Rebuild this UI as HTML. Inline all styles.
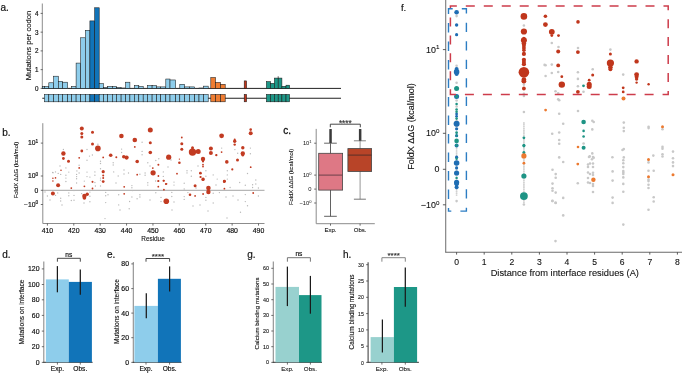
<!DOCTYPE html>
<html><head><meta charset="utf-8"><style>
html,body{margin:0;padding:0;background:#fff;overflow:hidden;}
svg{display:block;font-family:"Liberation Sans", sans-serif;will-change:transform;}
</style></head><body>
<svg width="685" height="373" viewBox="0 0 685 373">
<rect width="685" height="373" fill="#fff"/>
<text x="0.50" y="11.20" font-size="10" text-anchor="start" fill="#111" stroke="#111" stroke-width="0.18">a.</text>
<line x1="42.30" y1="3.50" x2="42.30" y2="88.70" stroke="#8c8c8c" stroke-width="1.0"/>
<line x1="40.60" y1="88.40" x2="42.60" y2="88.40" stroke="#333" stroke-width="0.7"/>
<text x="38.40" y="90.80" font-size="6.3" text-anchor="end" fill="#111" stroke="#111" stroke-width="0.18">0</text>
<line x1="40.60" y1="69.65" x2="42.60" y2="69.65" stroke="#333" stroke-width="0.7"/>
<text x="38.40" y="72.05" font-size="6.3" text-anchor="end" fill="#111" stroke="#111" stroke-width="0.18">1</text>
<line x1="40.60" y1="50.90" x2="42.60" y2="50.90" stroke="#333" stroke-width="0.7"/>
<text x="38.40" y="53.30" font-size="6.3" text-anchor="end" fill="#111" stroke="#111" stroke-width="0.18">2</text>
<line x1="40.60" y1="32.15" x2="42.60" y2="32.15" stroke="#333" stroke-width="0.7"/>
<text x="38.40" y="34.55" font-size="6.3" text-anchor="end" fill="#111" stroke="#111" stroke-width="0.18">3</text>
<line x1="40.60" y1="13.40" x2="42.60" y2="13.40" stroke="#333" stroke-width="0.7"/>
<text x="38.40" y="15.80" font-size="6.3" text-anchor="end" fill="#111" stroke="#111" stroke-width="0.18">4</text>
<text x="31.40" y="45.50" font-size="7.7" text-anchor="middle" fill="#111" stroke="#111" stroke-width="0.12" transform="rotate(-90 31.40 45.50)">Mutations per codon</text>
<line x1="42.30" y1="88.40" x2="341.00" y2="88.40" stroke="#222" stroke-width="1.0"/>
<rect x="42.60" y="86.50" width="1.80" height="1.90" fill="#8ecdeb" stroke="#1a1a1a" stroke-width="0.55"/>
<rect x="44.40" y="86.53" width="4.40" height="1.88" fill="#8ecdeb" stroke="#1a1a1a" stroke-width="0.55"/>
<rect x="48.80" y="82.78" width="4.80" height="5.62" fill="#8ecdeb" stroke="#1a1a1a" stroke-width="0.55"/>
<rect x="53.60" y="76.21" width="4.80" height="12.19" fill="#8ecdeb" stroke="#1a1a1a" stroke-width="0.55"/>
<rect x="58.40" y="81.28" width="4.20" height="7.12" fill="#8ecdeb" stroke="#1a1a1a" stroke-width="0.55"/>
<rect x="62.60" y="82.21" width="5.00" height="6.19" fill="#8ecdeb" stroke="#1a1a1a" stroke-width="0.55"/>
<rect x="71.70" y="86.53" width="4.40" height="1.88" fill="#8ecdeb" stroke="#1a1a1a" stroke-width="0.55"/>
<rect x="76.10" y="63.09" width="4.60" height="25.31" fill="#8ecdeb" stroke="#1a1a1a" stroke-width="0.55"/>
<rect x="80.70" y="37.78" width="4.70" height="50.62" fill="#8ecdeb" stroke="#1a1a1a" stroke-width="0.55"/>
<rect x="85.40" y="30.28" width="4.50" height="58.12" fill="#8ecdeb" stroke="#1a1a1a" stroke-width="0.55"/>
<rect x="89.90" y="20.90" width="4.80" height="67.50" fill="#1174b9" stroke="#1a1a1a" stroke-width="0.55"/>
<rect x="94.70" y="7.78" width="4.50" height="80.62" fill="#1174b9" stroke="#1a1a1a" stroke-width="0.55"/>
<rect x="99.20" y="83.71" width="4.30" height="4.69" fill="#8ecdeb" stroke="#1a1a1a" stroke-width="0.55"/>
<rect x="103.50" y="87.46" width="4.20" height="0.94" fill="#8ecdeb" stroke="#1a1a1a" stroke-width="0.55"/>
<rect x="107.70" y="86.53" width="4.60" height="1.88" fill="#8ecdeb" stroke="#1a1a1a" stroke-width="0.55"/>
<rect x="112.30" y="86.53" width="4.20" height="1.88" fill="#8ecdeb" stroke="#1a1a1a" stroke-width="0.55"/>
<rect x="116.50" y="87.46" width="4.60" height="0.94" fill="#8ecdeb" stroke="#1a1a1a" stroke-width="0.55"/>
<rect x="121.10" y="88.03" width="4.50" height="0.38" fill="#8ecdeb" stroke="#1a1a1a" stroke-width="0.55"/>
<rect x="125.60" y="82.21" width="4.30" height="6.19" fill="#8ecdeb" stroke="#1a1a1a" stroke-width="0.55"/>
<rect x="134.40" y="85.59" width="4.40" height="2.81" fill="#8ecdeb" stroke="#1a1a1a" stroke-width="0.55"/>
<rect x="138.80" y="86.53" width="4.40" height="1.88" fill="#8ecdeb" stroke="#1a1a1a" stroke-width="0.55"/>
<rect x="147.50" y="85.59" width="4.60" height="2.81" fill="#8ecdeb" stroke="#1a1a1a" stroke-width="0.55"/>
<rect x="152.10" y="85.59" width="4.50" height="2.81" fill="#8ecdeb" stroke="#1a1a1a" stroke-width="0.55"/>
<rect x="156.60" y="86.90" width="4.10" height="1.50" fill="#8ecdeb" stroke="#1a1a1a" stroke-width="0.55"/>
<rect x="160.70" y="86.90" width="5.10" height="1.50" fill="#8ecdeb" stroke="#1a1a1a" stroke-width="0.55"/>
<rect x="165.80" y="79.03" width="4.20" height="9.38" fill="#8ecdeb" stroke="#1a1a1a" stroke-width="0.55"/>
<rect x="170.00" y="79.96" width="5.60" height="8.44" fill="#8ecdeb" stroke="#1a1a1a" stroke-width="0.55"/>
<rect x="179.80" y="84.28" width="4.80" height="4.12" fill="#8ecdeb" stroke="#1a1a1a" stroke-width="0.55"/>
<rect x="184.60" y="86.90" width="4.80" height="1.50" fill="#8ecdeb" stroke="#1a1a1a" stroke-width="0.55"/>
<rect x="189.40" y="86.90" width="5.30" height="1.50" fill="#8ecdeb" stroke="#1a1a1a" stroke-width="0.55"/>
<rect x="199.00" y="88.03" width="4.60" height="0.38" fill="#8ecdeb" stroke="#1a1a1a" stroke-width="0.55"/>
<rect x="203.60" y="86.15" width="4.60" height="2.25" fill="#8ecdeb" stroke="#1a1a1a" stroke-width="0.55"/>
<rect x="210.80" y="77.53" width="4.70" height="10.88" fill="#ef7d32" stroke="#1a1a1a" stroke-width="0.55"/>
<rect x="215.50" y="82.40" width="5.00" height="6.00" fill="#ef7d32" stroke="#1a1a1a" stroke-width="0.55"/>
<rect x="220.50" y="84.28" width="4.70" height="4.12" fill="#ef7d32" stroke="#1a1a1a" stroke-width="0.55"/>
<rect x="244.20" y="80.90" width="2.40" height="7.50" fill="#c0361c" stroke="#1a1a1a" stroke-width="0.55"/>
<rect x="266.40" y="81.65" width="4.10" height="6.75" fill="#1d9787" stroke="#1a1a1a" stroke-width="0.55"/>
<rect x="270.50" y="83.34" width="3.90" height="5.06" fill="#1d9787" stroke="#1a1a1a" stroke-width="0.55"/>
<rect x="274.40" y="78.09" width="3.80" height="10.31" fill="#1d9787" stroke="#1a1a1a" stroke-width="0.55"/>
<rect x="278.20" y="78.09" width="3.70" height="10.31" fill="#1d9787" stroke="#1a1a1a" stroke-width="0.55"/>
<rect x="281.90" y="86.34" width="4.10" height="2.06" fill="#1d9787" stroke="#1a1a1a" stroke-width="0.55"/>
<rect x="286.00" y="85.21" width="3.60" height="3.19" fill="#1d9787" stroke="#1a1a1a" stroke-width="0.55"/>
<line x1="278.20" y1="76.20" x2="278.20" y2="78.60" stroke="#333" stroke-width="0.7"/>
<line x1="42.30" y1="98.20" x2="341.00" y2="98.20" stroke="#222" stroke-width="1.1"/>
<rect x="44.40" y="94.40" width="4.40" height="7.40" fill="#8ecdeb" stroke="#1a1a1a" stroke-width="0.55"/>
<rect x="48.80" y="94.40" width="4.80" height="7.40" fill="#8ecdeb" stroke="#1a1a1a" stroke-width="0.55"/>
<rect x="53.60" y="94.40" width="4.80" height="7.40" fill="#8ecdeb" stroke="#1a1a1a" stroke-width="0.55"/>
<rect x="58.40" y="94.40" width="4.20" height="7.40" fill="#8ecdeb" stroke="#1a1a1a" stroke-width="0.55"/>
<rect x="62.60" y="94.40" width="5.00" height="7.40" fill="#8ecdeb" stroke="#1a1a1a" stroke-width="0.55"/>
<rect x="67.60" y="94.40" width="4.10" height="7.40" fill="#8ecdeb" stroke="#1a1a1a" stroke-width="0.55"/>
<rect x="71.70" y="94.40" width="4.40" height="7.40" fill="#8ecdeb" stroke="#1a1a1a" stroke-width="0.55"/>
<rect x="76.10" y="94.40" width="4.60" height="7.40" fill="#8ecdeb" stroke="#1a1a1a" stroke-width="0.55"/>
<rect x="80.70" y="94.40" width="4.70" height="7.40" fill="#8ecdeb" stroke="#1a1a1a" stroke-width="0.55"/>
<rect x="85.40" y="94.40" width="4.50" height="7.40" fill="#8ecdeb" stroke="#1a1a1a" stroke-width="0.55"/>
<rect x="89.90" y="94.40" width="4.80" height="7.40" fill="#1174b9" stroke="#1a1a1a" stroke-width="0.55"/>
<rect x="94.70" y="94.40" width="4.50" height="7.40" fill="#1174b9" stroke="#1a1a1a" stroke-width="0.55"/>
<rect x="99.20" y="94.40" width="4.30" height="7.40" fill="#8ecdeb" stroke="#1a1a1a" stroke-width="0.55"/>
<rect x="103.50" y="94.40" width="4.20" height="7.40" fill="#8ecdeb" stroke="#1a1a1a" stroke-width="0.55"/>
<rect x="107.70" y="94.40" width="4.60" height="7.40" fill="#8ecdeb" stroke="#1a1a1a" stroke-width="0.55"/>
<rect x="112.30" y="94.40" width="4.20" height="7.40" fill="#8ecdeb" stroke="#1a1a1a" stroke-width="0.55"/>
<rect x="116.50" y="94.40" width="4.60" height="7.40" fill="#8ecdeb" stroke="#1a1a1a" stroke-width="0.55"/>
<rect x="121.10" y="94.40" width="4.50" height="7.40" fill="#8ecdeb" stroke="#1a1a1a" stroke-width="0.55"/>
<rect x="125.60" y="94.40" width="4.30" height="7.40" fill="#8ecdeb" stroke="#1a1a1a" stroke-width="0.55"/>
<rect x="129.90" y="94.40" width="4.50" height="7.40" fill="#8ecdeb" stroke="#1a1a1a" stroke-width="0.55"/>
<rect x="134.40" y="94.40" width="4.40" height="7.40" fill="#8ecdeb" stroke="#1a1a1a" stroke-width="0.55"/>
<rect x="138.80" y="94.40" width="4.40" height="7.40" fill="#8ecdeb" stroke="#1a1a1a" stroke-width="0.55"/>
<rect x="143.20" y="94.40" width="4.30" height="7.40" fill="#8ecdeb" stroke="#1a1a1a" stroke-width="0.55"/>
<rect x="147.50" y="94.40" width="4.60" height="7.40" fill="#8ecdeb" stroke="#1a1a1a" stroke-width="0.55"/>
<rect x="152.10" y="94.40" width="4.50" height="7.40" fill="#8ecdeb" stroke="#1a1a1a" stroke-width="0.55"/>
<rect x="156.60" y="94.40" width="4.10" height="7.40" fill="#8ecdeb" stroke="#1a1a1a" stroke-width="0.55"/>
<rect x="160.70" y="94.40" width="5.10" height="7.40" fill="#8ecdeb" stroke="#1a1a1a" stroke-width="0.55"/>
<rect x="165.80" y="94.40" width="4.20" height="7.40" fill="#8ecdeb" stroke="#1a1a1a" stroke-width="0.55"/>
<rect x="170.00" y="94.40" width="5.60" height="7.40" fill="#8ecdeb" stroke="#1a1a1a" stroke-width="0.55"/>
<rect x="175.60" y="94.40" width="4.20" height="7.40" fill="#8ecdeb" stroke="#1a1a1a" stroke-width="0.55"/>
<rect x="179.80" y="94.40" width="4.80" height="7.40" fill="#8ecdeb" stroke="#1a1a1a" stroke-width="0.55"/>
<rect x="184.60" y="94.40" width="4.80" height="7.40" fill="#8ecdeb" stroke="#1a1a1a" stroke-width="0.55"/>
<rect x="189.40" y="94.40" width="5.30" height="7.40" fill="#8ecdeb" stroke="#1a1a1a" stroke-width="0.55"/>
<rect x="194.70" y="94.40" width="4.30" height="7.40" fill="#8ecdeb" stroke="#1a1a1a" stroke-width="0.55"/>
<rect x="199.00" y="94.40" width="4.60" height="7.40" fill="#8ecdeb" stroke="#1a1a1a" stroke-width="0.55"/>
<rect x="203.60" y="94.40" width="4.60" height="7.40" fill="#8ecdeb" stroke="#1a1a1a" stroke-width="0.55"/>
<rect x="210.80" y="94.40" width="4.70" height="7.40" fill="#ef7d32" stroke="#1a1a1a" stroke-width="0.55"/>
<rect x="215.50" y="94.40" width="5.00" height="7.40" fill="#ef7d32" stroke="#1a1a1a" stroke-width="0.55"/>
<rect x="220.50" y="94.40" width="4.70" height="7.40" fill="#ef7d32" stroke="#1a1a1a" stroke-width="0.55"/>
<rect x="244.20" y="94.40" width="2.40" height="7.40" fill="#c0361c" stroke="#1a1a1a" stroke-width="0.55"/>
<rect x="266.40" y="94.40" width="4.10" height="7.40" fill="#1d9787" stroke="#1a1a1a" stroke-width="0.55"/>
<rect x="270.50" y="94.40" width="3.90" height="7.40" fill="#1d9787" stroke="#1a1a1a" stroke-width="0.55"/>
<rect x="274.40" y="94.40" width="3.80" height="7.40" fill="#1d9787" stroke="#1a1a1a" stroke-width="0.55"/>
<rect x="278.20" y="94.40" width="3.70" height="7.40" fill="#1d9787" stroke="#1a1a1a" stroke-width="0.55"/>
<rect x="281.90" y="94.40" width="4.10" height="7.40" fill="#1d9787" stroke="#1a1a1a" stroke-width="0.55"/>
<rect x="286.00" y="94.40" width="3.60" height="7.40" fill="#1d9787" stroke="#1a1a1a" stroke-width="0.55"/>
<text x="2.20" y="135.60" font-size="10" text-anchor="start" fill="#111" stroke="#111" stroke-width="0.18">b.</text>
<line x1="42.80" y1="123.20" x2="42.80" y2="223.50" stroke="#8c8c8c" stroke-width="1.0"/>
<line x1="42.80" y1="223.50" x2="264.50" y2="223.50" stroke="#8c8c8c" stroke-width="1.0"/>
<line x1="42.80" y1="190.30" x2="264.50" y2="190.30" stroke="#9a9a9a" stroke-width="0.9"/>
<line x1="40.80" y1="143.10" x2="42.80" y2="143.10" stroke="#333" stroke-width="0.7"/>
<text x="38.20" y="145.40" font-size="6.8" text-anchor="end" fill="#111" stroke="#111" stroke-width="0.18">10<tspan font-size="4.76" dy="-2.58">1</tspan></text>
<line x1="40.80" y1="176.00" x2="42.80" y2="176.00" stroke="#333" stroke-width="0.7"/>
<text x="38.20" y="178.30" font-size="6.8" text-anchor="end" fill="#111" stroke="#111" stroke-width="0.18">10<tspan font-size="4.76" dy="-2.58">0</tspan></text>
<line x1="40.80" y1="204.50" x2="42.80" y2="204.50" stroke="#333" stroke-width="0.7"/>
<text x="38.20" y="206.80" font-size="6.8" text-anchor="end" fill="#111" stroke="#111" stroke-width="0.18">−10<tspan font-size="4.76" dy="-2.58">0</tspan></text>
<line x1="40.80" y1="190.30" x2="42.80" y2="190.30" stroke="#333" stroke-width="0.7"/>
<text x="38.20" y="192.60" font-size="6.8" text-anchor="end" fill="#111" stroke="#111" stroke-width="0.18">0</text>
<text x="17.60" y="170.00" font-size="5.9" text-anchor="middle" fill="#111" stroke="#111" stroke-width="0.12" transform="rotate(-90 17.60 170.00)">FoldX ΔΔG (kcal/mol)</text>
<line x1="47.40" y1="223.50" x2="47.40" y2="225.60" stroke="#333" stroke-width="0.7"/>
<text x="47.40" y="232.70" font-size="6.9" text-anchor="middle" fill="#111" stroke="#111" stroke-width="0.18">410</text>
<line x1="73.79" y1="223.50" x2="73.79" y2="225.60" stroke="#333" stroke-width="0.7"/>
<text x="73.79" y="232.70" font-size="6.9" text-anchor="middle" fill="#111" stroke="#111" stroke-width="0.18">420</text>
<line x1="100.18" y1="223.50" x2="100.18" y2="225.60" stroke="#333" stroke-width="0.7"/>
<text x="100.18" y="232.70" font-size="6.9" text-anchor="middle" fill="#111" stroke="#111" stroke-width="0.18">430</text>
<line x1="126.57" y1="223.50" x2="126.57" y2="225.60" stroke="#333" stroke-width="0.7"/>
<text x="126.57" y="232.70" font-size="6.9" text-anchor="middle" fill="#111" stroke="#111" stroke-width="0.18">440</text>
<line x1="152.96" y1="223.50" x2="152.96" y2="225.60" stroke="#333" stroke-width="0.7"/>
<text x="152.96" y="232.70" font-size="6.9" text-anchor="middle" fill="#111" stroke="#111" stroke-width="0.18">450</text>
<line x1="179.35" y1="223.50" x2="179.35" y2="225.60" stroke="#333" stroke-width="0.7"/>
<text x="179.35" y="232.70" font-size="6.9" text-anchor="middle" fill="#111" stroke="#111" stroke-width="0.18">460</text>
<line x1="205.74" y1="223.50" x2="205.74" y2="225.60" stroke="#333" stroke-width="0.7"/>
<text x="205.74" y="232.70" font-size="6.9" text-anchor="middle" fill="#111" stroke="#111" stroke-width="0.18">470</text>
<line x1="232.13" y1="223.50" x2="232.13" y2="225.60" stroke="#333" stroke-width="0.7"/>
<text x="232.13" y="232.70" font-size="6.9" text-anchor="middle" fill="#111" stroke="#111" stroke-width="0.18">480</text>
<line x1="258.52" y1="223.50" x2="258.52" y2="225.60" stroke="#333" stroke-width="0.7"/>
<text x="258.52" y="232.70" font-size="6.9" text-anchor="middle" fill="#111" stroke="#111" stroke-width="0.18">490</text>
<text x="153.00" y="241.30" font-size="6.4" text-anchor="middle" fill="#111" stroke="#111" stroke-width="0.1">Residue</text>
<circle cx="63.40" cy="149.50" r="0.68" fill="#b8b8b8"/>
<circle cx="87.00" cy="149.50" r="0.68" fill="#b8b8b8"/>
<circle cx="89.50" cy="156.10" r="0.68" fill="#b8b8b8"/>
<circle cx="92.40" cy="155.00" r="0.68" fill="#b8b8b8"/>
<circle cx="87.00" cy="160.30" r="0.68" fill="#b8b8b8"/>
<circle cx="79.10" cy="165.30" r="0.68" fill="#b8b8b8"/>
<circle cx="65.90" cy="167.90" r="0.68" fill="#b8b8b8"/>
<circle cx="100.50" cy="161.30" r="0.68" fill="#b8b8b8"/>
<circle cx="100.50" cy="163.50" r="0.68" fill="#b8b8b8"/>
<circle cx="100.50" cy="168.70" r="0.68" fill="#b8b8b8"/>
<circle cx="52.60" cy="172.40" r="0.68" fill="#b8b8b8"/>
<circle cx="55.50" cy="171.90" r="0.68" fill="#b8b8b8"/>
<circle cx="58.20" cy="173.40" r="0.68" fill="#b8b8b8"/>
<circle cx="68.80" cy="172.10" r="0.68" fill="#b8b8b8"/>
<circle cx="76.90" cy="170.90" r="0.68" fill="#b8b8b8"/>
<circle cx="87.00" cy="172.10" r="0.68" fill="#b8b8b8"/>
<circle cx="94.90" cy="171.90" r="0.68" fill="#b8b8b8"/>
<circle cx="97.90" cy="144.30" r="0.68" fill="#b8b8b8"/>
<circle cx="53.00" cy="172.70" r="0.68" fill="#b8b8b8"/>
<circle cx="60.70" cy="174.40" r="0.68" fill="#b8b8b8"/>
<circle cx="65.90" cy="175.20" r="0.68" fill="#b8b8b8"/>
<circle cx="65.90" cy="178.10" r="0.68" fill="#b8b8b8"/>
<circle cx="65.90" cy="181.50" r="0.68" fill="#b8b8b8"/>
<circle cx="76.60" cy="174.40" r="0.68" fill="#b8b8b8"/>
<circle cx="76.60" cy="176.60" r="0.68" fill="#b8b8b8"/>
<circle cx="76.60" cy="178.80" r="0.68" fill="#b8b8b8"/>
<circle cx="76.60" cy="183.00" r="0.68" fill="#b8b8b8"/>
<circle cx="79.10" cy="173.00" r="0.68" fill="#b8b8b8"/>
<circle cx="87.00" cy="176.60" r="0.68" fill="#b8b8b8"/>
<circle cx="84.30" cy="181.10" r="0.68" fill="#b8b8b8"/>
<circle cx="89.90" cy="177.10" r="0.68" fill="#b8b8b8"/>
<circle cx="94.90" cy="175.20" r="0.68" fill="#b8b8b8"/>
<circle cx="94.90" cy="182.50" r="0.68" fill="#b8b8b8"/>
<circle cx="95.40" cy="186.00" r="0.68" fill="#b8b8b8"/>
<circle cx="100.50" cy="178.10" r="0.68" fill="#b8b8b8"/>
<circle cx="100.50" cy="180.30" r="0.68" fill="#b8b8b8"/>
<circle cx="100.50" cy="186.00" r="0.68" fill="#b8b8b8"/>
<circle cx="57.70" cy="192.90" r="0.68" fill="#b8b8b8"/>
<circle cx="55.50" cy="195.40" r="0.68" fill="#b8b8b8"/>
<circle cx="60.70" cy="198.30" r="0.68" fill="#b8b8b8"/>
<circle cx="60.70" cy="201.00" r="0.68" fill="#b8b8b8"/>
<circle cx="68.80" cy="192.90" r="0.68" fill="#b8b8b8"/>
<circle cx="68.80" cy="195.80" r="0.68" fill="#b8b8b8"/>
<circle cx="74.00" cy="190.60" r="0.68" fill="#b8b8b8"/>
<circle cx="74.00" cy="195.40" r="0.68" fill="#b8b8b8"/>
<circle cx="74.00" cy="200.20" r="0.68" fill="#b8b8b8"/>
<circle cx="71.30" cy="200.50" r="0.68" fill="#b8b8b8"/>
<circle cx="89.90" cy="192.10" r="0.68" fill="#b8b8b8"/>
<circle cx="89.90" cy="196.30" r="0.68" fill="#b8b8b8"/>
<circle cx="89.90" cy="201.70" r="0.68" fill="#b8b8b8"/>
<circle cx="81.60" cy="193.60" r="0.68" fill="#b8b8b8"/>
<circle cx="121.60" cy="149.10" r="0.68" fill="#b8b8b8"/>
<circle cx="121.60" cy="152.50" r="0.68" fill="#b8b8b8"/>
<circle cx="142.10" cy="142.30" r="0.68" fill="#b8b8b8"/>
<circle cx="142.10" cy="151.40" r="0.68" fill="#b8b8b8"/>
<circle cx="142.10" cy="154.80" r="0.68" fill="#b8b8b8"/>
<circle cx="113.20" cy="162.80" r="0.68" fill="#b8b8b8"/>
<circle cx="113.20" cy="165.00" r="0.68" fill="#b8b8b8"/>
<circle cx="113.70" cy="171.90" r="0.68" fill="#b8b8b8"/>
<circle cx="118.20" cy="176.00" r="0.68" fill="#b8b8b8"/>
<circle cx="128.50" cy="173.00" r="0.68" fill="#b8b8b8"/>
<circle cx="131.90" cy="185.60" r="0.68" fill="#b8b8b8"/>
<circle cx="131.90" cy="187.80" r="0.68" fill="#b8b8b8"/>
<circle cx="139.90" cy="174.20" r="0.68" fill="#b8b8b8"/>
<circle cx="145.10" cy="173.00" r="0.68" fill="#b8b8b8"/>
<circle cx="145.10" cy="175.30" r="0.68" fill="#b8b8b8"/>
<circle cx="147.80" cy="162.80" r="0.68" fill="#b8b8b8"/>
<circle cx="155.80" cy="160.50" r="0.68" fill="#b8b8b8"/>
<circle cx="158.80" cy="158.70" r="0.68" fill="#b8b8b8"/>
<circle cx="163.30" cy="171.90" r="0.68" fill="#b8b8b8"/>
<circle cx="163.30" cy="176.40" r="0.68" fill="#b8b8b8"/>
<circle cx="147.80" cy="182.80" r="0.68" fill="#b8b8b8"/>
<circle cx="147.80" cy="185.10" r="0.68" fill="#b8b8b8"/>
<circle cx="155.60" cy="181.00" r="0.68" fill="#b8b8b8"/>
<circle cx="174.00" cy="182.10" r="0.68" fill="#b8b8b8"/>
<circle cx="174.00" cy="185.10" r="0.68" fill="#b8b8b8"/>
<circle cx="105.70" cy="192.40" r="0.68" fill="#b8b8b8"/>
<circle cx="105.70" cy="195.80" r="0.68" fill="#b8b8b8"/>
<circle cx="105.70" cy="202.60" r="0.68" fill="#b8b8b8"/>
<circle cx="108.00" cy="194.70" r="0.68" fill="#b8b8b8"/>
<circle cx="118.70" cy="194.70" r="0.68" fill="#b8b8b8"/>
<circle cx="118.70" cy="204.90" r="0.68" fill="#b8b8b8"/>
<circle cx="129.60" cy="201.50" r="0.68" fill="#b8b8b8"/>
<circle cx="129.20" cy="208.80" r="0.68" fill="#b8b8b8"/>
<circle cx="131.90" cy="197.00" r="0.68" fill="#b8b8b8"/>
<circle cx="139.90" cy="194.70" r="0.68" fill="#b8b8b8"/>
<circle cx="139.90" cy="197.00" r="0.68" fill="#b8b8b8"/>
<circle cx="137.10" cy="198.80" r="0.68" fill="#b8b8b8"/>
<circle cx="155.80" cy="192.80" r="0.68" fill="#b8b8b8"/>
<circle cx="161.00" cy="197.40" r="0.68" fill="#b8b8b8"/>
<circle cx="161.00" cy="201.50" r="0.68" fill="#b8b8b8"/>
<circle cx="171.80" cy="192.40" r="0.68" fill="#b8b8b8"/>
<circle cx="171.80" cy="196.50" r="0.68" fill="#b8b8b8"/>
<circle cx="174.00" cy="202.00" r="0.68" fill="#b8b8b8"/>
<circle cx="105.00" cy="218.60" r="0.68" fill="#b8b8b8"/>
<circle cx="132.60" cy="190.60" r="0.68" fill="#b8b8b8"/>
<circle cx="187.00" cy="170.70" r="0.68" fill="#b8b8b8"/>
<circle cx="187.00" cy="172.90" r="0.68" fill="#b8b8b8"/>
<circle cx="191.30" cy="170.70" r="0.68" fill="#b8b8b8"/>
<circle cx="191.30" cy="176.30" r="0.68" fill="#b8b8b8"/>
<circle cx="184.20" cy="183.30" r="0.68" fill="#b8b8b8"/>
<circle cx="184.20" cy="189.00" r="0.68" fill="#b8b8b8"/>
<circle cx="184.20" cy="196.60" r="0.68" fill="#b8b8b8"/>
<circle cx="184.20" cy="199.40" r="0.68" fill="#b8b8b8"/>
<circle cx="187.90" cy="192.60" r="0.68" fill="#b8b8b8"/>
<circle cx="205.90" cy="170.70" r="0.68" fill="#b8b8b8"/>
<circle cx="205.90" cy="176.30" r="0.68" fill="#b8b8b8"/>
<circle cx="205.90" cy="197.40" r="0.68" fill="#b8b8b8"/>
<circle cx="205.90" cy="200.20" r="0.68" fill="#b8b8b8"/>
<circle cx="213.20" cy="174.90" r="0.68" fill="#b8b8b8"/>
<circle cx="213.20" cy="203.00" r="0.68" fill="#b8b8b8"/>
<circle cx="213.20" cy="193.20" r="0.68" fill="#b8b8b8"/>
<circle cx="217.20" cy="179.10" r="0.68" fill="#b8b8b8"/>
<circle cx="219.40" cy="192.60" r="0.68" fill="#b8b8b8"/>
<circle cx="221.70" cy="148.10" r="0.68" fill="#b8b8b8"/>
<circle cx="227.30" cy="170.70" r="0.68" fill="#b8b8b8"/>
<circle cx="227.30" cy="174.90" r="0.68" fill="#b8b8b8"/>
<circle cx="227.30" cy="179.10" r="0.68" fill="#b8b8b8"/>
<circle cx="230.10" cy="187.50" r="0.68" fill="#b8b8b8"/>
<circle cx="234.90" cy="149.60" r="0.68" fill="#b8b8b8"/>
<circle cx="237.70" cy="153.20" r="0.68" fill="#b8b8b8"/>
<circle cx="239.70" cy="182.50" r="0.68" fill="#b8b8b8"/>
<circle cx="240.50" cy="212.30" r="0.68" fill="#b8b8b8"/>
<circle cx="245.30" cy="185.30" r="0.68" fill="#b8b8b8"/>
<circle cx="245.30" cy="194.60" r="0.68" fill="#b8b8b8"/>
<circle cx="245.30" cy="201.60" r="0.68" fill="#b8b8b8"/>
<circle cx="247.50" cy="173.50" r="0.68" fill="#b8b8b8"/>
<circle cx="247.50" cy="205.80" r="0.68" fill="#b8b8b8"/>
<circle cx="250.40" cy="148.10" r="0.68" fill="#b8b8b8"/>
<circle cx="250.40" cy="153.80" r="0.68" fill="#b8b8b8"/>
<circle cx="252.60" cy="184.70" r="0.68" fill="#b8b8b8"/>
<circle cx="252.60" cy="187.50" r="0.68" fill="#b8b8b8"/>
<circle cx="255.80" cy="180.00" r="0.68" fill="#b8b8b8"/>
<circle cx="255.80" cy="184.00" r="0.68" fill="#b8b8b8"/>
<circle cx="258.40" cy="188.00" r="0.68" fill="#b8b8b8"/>
<circle cx="258.40" cy="196.00" r="0.68" fill="#b8b8b8"/>
<circle cx="45.00" cy="192.00" r="0.68" fill="#b8b8b8"/>
<circle cx="47.40" cy="196.00" r="0.68" fill="#b8b8b8"/>
<circle cx="50.00" cy="200.00" r="0.68" fill="#b8b8b8"/>
<circle cx="60.00" cy="166.00" r="0.68" fill="#b8b8b8"/>
<circle cx="116.00" cy="183.00" r="0.68" fill="#b8b8b8"/>
<circle cx="124.00" cy="170.00" r="0.68" fill="#b8b8b8"/>
<circle cx="124.00" cy="174.00" r="0.68" fill="#b8b8b8"/>
<circle cx="150.00" cy="166.00" r="0.68" fill="#b8b8b8"/>
<circle cx="168.00" cy="167.00" r="0.68" fill="#b8b8b8"/>
<circle cx="171.00" cy="160.00" r="0.68" fill="#b8b8b8"/>
<circle cx="198.00" cy="166.00" r="0.68" fill="#b8b8b8"/>
<circle cx="196.00" cy="188.00" r="0.68" fill="#b8b8b8"/>
<circle cx="200.00" cy="205.00" r="0.68" fill="#b8b8b8"/>
<circle cx="216.00" cy="185.00" r="0.68" fill="#b8b8b8"/>
<circle cx="226.00" cy="197.00" r="0.68" fill="#b8b8b8"/>
<circle cx="233.00" cy="196.00" r="0.68" fill="#b8b8b8"/>
<circle cx="238.00" cy="200.00" r="0.68" fill="#b8b8b8"/>
<circle cx="62.00" cy="205.00" r="0.68" fill="#b8b8b8"/>
<circle cx="84.00" cy="203.00" r="0.68" fill="#b8b8b8"/>
<circle cx="120.00" cy="210.00" r="0.68" fill="#b8b8b8"/>
<circle cx="150.00" cy="200.00" r="0.68" fill="#b8b8b8"/>
<circle cx="172.00" cy="210.00" r="0.68" fill="#b8b8b8"/>
<circle cx="193.00" cy="206.00" r="0.68" fill="#b8b8b8"/>
<circle cx="208.00" cy="211.00" r="0.68" fill="#b8b8b8"/>
<circle cx="227.00" cy="218.00" r="0.68" fill="#b8b8b8"/>
<circle cx="81.80" cy="128.50" r="2.00" fill="#c23b22"/>
<circle cx="81.80" cy="133.40" r="1.50" fill="#c23b22"/>
<circle cx="81.80" cy="137.10" r="1.50" fill="#c23b22"/>
<circle cx="92.50" cy="132.30" r="1.50" fill="#c23b22"/>
<circle cx="92.50" cy="144.10" r="1.50" fill="#c23b22"/>
<circle cx="97.90" cy="148.40" r="2.80" fill="#c23b22"/>
<circle cx="121.40" cy="136.00" r="2.30" fill="#c23b22"/>
<circle cx="63.40" cy="153.50" r="2.20" fill="#c23b22"/>
<circle cx="63.40" cy="158.50" r="1.40" fill="#c23b22"/>
<circle cx="68.50" cy="161.30" r="1.50" fill="#c23b22"/>
<circle cx="81.80" cy="151.00" r="1.40" fill="#c23b22"/>
<circle cx="79.20" cy="157.80" r="0.90" fill="#c23b22"/>
<circle cx="79.20" cy="167.90" r="0.90" fill="#c23b22"/>
<circle cx="110.70" cy="155.30" r="1.80" fill="#c23b22"/>
<circle cx="116.30" cy="157.20" r="1.00" fill="#c23b22"/>
<circle cx="126.60" cy="157.60" r="2.10" fill="#c23b22"/>
<circle cx="123.80" cy="156.70" r="1.80" fill="#c23b22"/>
<circle cx="103.20" cy="157.40" r="0.90" fill="#c23b22"/>
<circle cx="103.20" cy="171.70" r="1.60" fill="#c23b22"/>
<circle cx="103.20" cy="175.40" r="1.00" fill="#c23b22"/>
<circle cx="103.20" cy="177.90" r="1.00" fill="#c23b22"/>
<circle cx="103.20" cy="181.60" r="1.40" fill="#c23b22"/>
<circle cx="61.00" cy="170.30" r="0.80" fill="#c23b22"/>
<circle cx="52.90" cy="178.20" r="0.80" fill="#c23b22"/>
<circle cx="55.50" cy="177.90" r="0.80" fill="#c23b22"/>
<circle cx="52.90" cy="181.00" r="0.80" fill="#c23b22"/>
<circle cx="92.50" cy="181.60" r="0.80" fill="#c23b22"/>
<circle cx="150.30" cy="130.00" r="2.50" fill="#c23b22"/>
<circle cx="134.80" cy="140.00" r="2.30" fill="#c23b22"/>
<circle cx="134.80" cy="146.90" r="0.90" fill="#c23b22"/>
<circle cx="150.30" cy="142.80" r="1.50" fill="#c23b22"/>
<circle cx="150.30" cy="152.50" r="1.80" fill="#c23b22"/>
<circle cx="137.20" cy="161.50" r="1.80" fill="#c23b22"/>
<circle cx="168.70" cy="157.20" r="2.60" fill="#c23b22"/>
<circle cx="181.80" cy="137.50" r="0.90" fill="#c23b22"/>
<circle cx="181.80" cy="143.70" r="1.50" fill="#c23b22"/>
<circle cx="181.80" cy="149.30" r="1.50" fill="#c23b22"/>
<circle cx="192.50" cy="152.10" r="3.70" fill="#c23b22"/>
<circle cx="192.50" cy="147.80" r="1.50" fill="#c23b22"/>
<circle cx="198.20" cy="151.60" r="2.50" fill="#c23b22"/>
<circle cx="210.90" cy="148.60" r="2.00" fill="#c23b22"/>
<circle cx="210.90" cy="152.90" r="2.00" fill="#c23b22"/>
<circle cx="216.40" cy="155.00" r="1.00" fill="#c23b22"/>
<circle cx="221.60" cy="135.80" r="2.40" fill="#c23b22"/>
<circle cx="221.60" cy="152.10" r="0.90" fill="#c23b22"/>
<circle cx="203.00" cy="159.00" r="2.20" fill="#c23b22"/>
<circle cx="203.00" cy="161.50" r="1.10" fill="#c23b22"/>
<circle cx="203.00" cy="164.70" r="0.90" fill="#c23b22"/>
<circle cx="203.00" cy="166.60" r="0.90" fill="#c23b22"/>
<circle cx="179.40" cy="159.10" r="0.70" fill="#c23b22"/>
<circle cx="179.40" cy="162.80" r="1.30" fill="#c23b22"/>
<circle cx="153.10" cy="172.80" r="2.60" fill="#c23b22"/>
<circle cx="152.80" cy="168.10" r="0.90" fill="#c23b22"/>
<circle cx="158.40" cy="164.70" r="1.00" fill="#c23b22"/>
<circle cx="137.20" cy="174.70" r="0.90" fill="#c23b22"/>
<circle cx="158.40" cy="176.00" r="0.90" fill="#c23b22"/>
<circle cx="158.40" cy="181.00" r="1.00" fill="#c23b22"/>
<circle cx="163.50" cy="180.70" r="1.00" fill="#c23b22"/>
<circle cx="165.90" cy="183.90" r="1.00" fill="#c23b22"/>
<circle cx="177.00" cy="173.70" r="0.90" fill="#c23b22"/>
<circle cx="200.40" cy="173.20" r="1.40" fill="#c23b22"/>
<circle cx="200.40" cy="176.90" r="0.90" fill="#c23b22"/>
<circle cx="203.00" cy="179.40" r="1.60" fill="#c23b22"/>
<circle cx="223.90" cy="181.60" r="1.10" fill="#c23b22"/>
<circle cx="250.70" cy="129.60" r="1.30" fill="#c23b22"/>
<circle cx="250.70" cy="133.20" r="2.00" fill="#c23b22"/>
<circle cx="234.70" cy="139.40" r="1.00" fill="#c23b22"/>
<circle cx="234.70" cy="141.30" r="1.70" fill="#c23b22"/>
<circle cx="234.70" cy="144.60" r="1.20" fill="#c23b22"/>
<circle cx="242.80" cy="147.80" r="1.70" fill="#c23b22"/>
<circle cx="242.80" cy="153.50" r="2.20" fill="#c23b22"/>
<circle cx="242.80" cy="155.30" r="1.20" fill="#c23b22"/>
<circle cx="237.50" cy="160.00" r="1.50" fill="#c23b22"/>
<circle cx="226.80" cy="161.90" r="1.80" fill="#c23b22"/>
<circle cx="216.30" cy="155.30" r="1.00" fill="#c23b22"/>
<circle cx="250.70" cy="167.20" r="0.90" fill="#c23b22"/>
<circle cx="232.30" cy="169.40" r="1.10" fill="#c23b22"/>
<circle cx="224.40" cy="181.20" r="1.40" fill="#c23b22"/>
<circle cx="52.90" cy="193.40" r="2.00" fill="#c23b22"/>
<circle cx="58.10" cy="185.30" r="2.00" fill="#c23b22"/>
<circle cx="71.30" cy="188.10" r="0.90" fill="#c23b22"/>
<circle cx="84.40" cy="186.30" r="0.90" fill="#c23b22"/>
<circle cx="84.40" cy="196.00" r="2.20" fill="#c23b22"/>
<circle cx="84.40" cy="197.90" r="1.80" fill="#c23b22"/>
<circle cx="87.20" cy="194.20" r="1.70" fill="#c23b22"/>
<circle cx="92.50" cy="181.90" r="0.90" fill="#c23b22"/>
<circle cx="92.50" cy="188.50" r="0.90" fill="#c23b22"/>
<circle cx="124.20" cy="186.80" r="0.90" fill="#c23b22"/>
<circle cx="124.20" cy="193.80" r="0.90" fill="#c23b22"/>
<circle cx="166.30" cy="201.20" r="2.80" fill="#c23b22"/>
<circle cx="195.10" cy="185.80" r="1.50" fill="#c23b22"/>
<circle cx="190.00" cy="194.80" r="1.30" fill="#c23b22"/>
<circle cx="195.10" cy="195.90" r="0.90" fill="#c23b22"/>
<circle cx="203.10" cy="179.10" r="1.50" fill="#c23b22"/>
<circle cx="200.70" cy="177.00" r="0.90" fill="#c23b22"/>
<circle cx="203.10" cy="194.00" r="0.90" fill="#c23b22"/>
<circle cx="208.40" cy="188.00" r="2.30" fill="#c23b22"/>
<circle cx="208.40" cy="192.00" r="2.20" fill="#c23b22"/>
<circle cx="224.40" cy="181.50" r="1.40" fill="#c23b22"/>
<circle cx="224.40" cy="188.70" r="0.90" fill="#c23b22"/>
<circle cx="253.20" cy="193.00" r="0.90" fill="#c23b22"/>
<circle cx="163.90" cy="180.70" r="0.90" fill="#c23b22"/>
<circle cx="166.50" cy="183.80" r="0.90" fill="#c23b22"/>
<circle cx="158.30" cy="181.10" r="0.90" fill="#c23b22"/>
<circle cx="158.30" cy="186.70" r="0.90" fill="#c23b22"/>
<circle cx="163.90" cy="189.70" r="0.90" fill="#c23b22"/>
<text x="283.30" y="134.30" font-size="10" text-anchor="start" fill="#111" stroke="#111" stroke-width="0.3">c.</text>
<line x1="316.20" y1="128.90" x2="316.20" y2="223.70" stroke="#8c8c8c" stroke-width="1.0"/>
<line x1="316.20" y1="223.70" x2="374.80" y2="223.70" stroke="#8c8c8c" stroke-width="1.0"/>
<line x1="314.20" y1="143.20" x2="316.20" y2="143.20" stroke="#333" stroke-width="0.7"/>
<text x="311.60" y="145.30" font-size="5.8" text-anchor="end" fill="#111" stroke="#111" stroke-width="0.0">10<tspan font-size="4.06" dy="-2.20">1</tspan></text>
<line x1="314.20" y1="175.10" x2="316.20" y2="175.10" stroke="#333" stroke-width="0.7"/>
<text x="311.60" y="177.20" font-size="5.8" text-anchor="end" fill="#111" stroke="#111" stroke-width="0.0">10<tspan font-size="4.06" dy="-2.20">0</tspan></text>
<line x1="314.20" y1="203.00" x2="316.20" y2="203.00" stroke="#333" stroke-width="0.7"/>
<text x="311.60" y="205.10" font-size="5.8" text-anchor="end" fill="#111" stroke="#111" stroke-width="0.0">−10<tspan font-size="4.06" dy="-2.20">0</tspan></text>
<line x1="314.20" y1="189.10" x2="316.20" y2="189.10" stroke="#333" stroke-width="0.7"/>
<text x="311.60" y="191.20" font-size="5.8" text-anchor="end" fill="#111">0</text>
<text x="292.60" y="177.00" font-size="5.85" text-anchor="middle" fill="#111" stroke="#111" stroke-width="0.1" transform="rotate(-90 292.60 177.00)">FoldX ΔΔG (kcal/mol)</text>
<line x1="330.50" y1="223.70" x2="330.50" y2="225.70" stroke="#333" stroke-width="0.7"/>
<text x="330.50" y="232.00" font-size="6.0" text-anchor="middle" fill="#111" stroke="#111" stroke-width="0.1">Exp.</text>
<line x1="360.10" y1="223.70" x2="360.10" y2="225.70" stroke="#333" stroke-width="0.7"/>
<text x="360.10" y="232.00" font-size="6.0" text-anchor="middle" fill="#111" stroke="#111" stroke-width="0.1">Obs.</text>
<line x1="330.50" y1="143.20" x2="330.50" y2="216.30" stroke="#505050" stroke-width="0.9"/>
<line x1="324.10" y1="143.20" x2="336.80" y2="143.20" stroke="#555" stroke-width="0.9"/>
<line x1="324.10" y1="216.30" x2="336.80" y2="216.30" stroke="#505050" stroke-width="0.9"/>
<rect x="318.70" y="153.30" width="23.90" height="36.80" fill="#de7885" stroke="#454545" stroke-width="0.8"/>
<line x1="318.70" y1="175.10" x2="342.60" y2="175.10" stroke="#6a4048" stroke-width="1.0"/>
<rect x="329.30" y="129.00" width="2.50" height="14.00" fill="#3a3a3a" stroke="none" stroke-width="0" rx="0.3"/>
<line x1="360.10" y1="140.80" x2="360.10" y2="199.20" stroke="#8a8a8a" stroke-width="0.9"/>
<line x1="353.90" y1="140.80" x2="365.90" y2="140.80" stroke="#777" stroke-width="0.9"/>
<line x1="353.90" y1="199.20" x2="365.90" y2="199.20" stroke="#666" stroke-width="0.9"/>
<rect x="347.90" y="148.60" width="23.70" height="22.90" fill="#b84428" stroke="#454545" stroke-width="0.8"/>
<line x1="347.90" y1="155.10" x2="371.60" y2="155.10" stroke="#5a3028" stroke-width="1.0"/>
<rect x="358.90" y="129.00" width="2.50" height="11.80" fill="#3a3a3a" stroke="none" stroke-width="0" rx="0.3"/>
<polyline points="330.3,127.3 330.3,124.2 360.3,124.2 360.3,127.3" fill="none" stroke="#333" stroke-width="0.9"/>
<text x="345.30" y="125.80" font-size="8.2" text-anchor="middle" fill="#333" stroke="#333" stroke-width="0.15">****</text>
<text x="2.20" y="258.20" font-size="10" text-anchor="start" fill="#111" stroke="#111" stroke-width="0.18">d.</text>
<line x1="43.80" y1="261.60" x2="43.80" y2="362.40" stroke="#8c8c8c" stroke-width="1.1"/>
<line x1="43.30" y1="362.30" x2="92.60" y2="362.30" stroke="#333" stroke-width="1.0"/>
<line x1="41.80" y1="362.40" x2="43.80" y2="362.40" stroke="#333" stroke-width="0.7"/>
<text x="39.50" y="364.81" font-size="6.9" text-anchor="end" fill="#111" stroke="#111" stroke-width="0.18">0</text>
<line x1="41.80" y1="346.70" x2="43.80" y2="346.70" stroke="#333" stroke-width="0.7"/>
<text x="39.50" y="349.12" font-size="6.9" text-anchor="end" fill="#111" stroke="#111" stroke-width="0.18">20</text>
<line x1="41.80" y1="331.10" x2="43.80" y2="331.10" stroke="#333" stroke-width="0.7"/>
<text x="39.50" y="333.52" font-size="6.9" text-anchor="end" fill="#111" stroke="#111" stroke-width="0.18">40</text>
<line x1="41.80" y1="315.40" x2="43.80" y2="315.40" stroke="#333" stroke-width="0.7"/>
<text x="39.50" y="317.81" font-size="6.9" text-anchor="end" fill="#111" stroke="#111" stroke-width="0.18">60</text>
<line x1="41.80" y1="299.80" x2="43.80" y2="299.80" stroke="#333" stroke-width="0.7"/>
<text x="39.50" y="302.22" font-size="6.9" text-anchor="end" fill="#111" stroke="#111" stroke-width="0.18">80</text>
<line x1="41.80" y1="284.50" x2="43.80" y2="284.50" stroke="#333" stroke-width="0.7"/>
<text x="39.50" y="286.92" font-size="6.9" text-anchor="end" fill="#111" stroke="#111" stroke-width="0.18">100</text>
<line x1="41.80" y1="268.90" x2="43.80" y2="268.90" stroke="#333" stroke-width="0.7"/>
<text x="39.50" y="271.31" font-size="6.9" text-anchor="end" fill="#111" stroke="#111" stroke-width="0.18">120</text>
<text x="24.40" y="312.00" font-size="6.6" text-anchor="middle" fill="#111" stroke="#111" stroke-width="0.12" transform="rotate(-90 24.40 312.00)">Mutations on interface</text>
<rect x="45.90" y="279.40" width="22.90" height="82.90" fill="#8ecdeb" stroke="none" stroke-width="0"/>
<rect x="68.80" y="281.90" width="23.10" height="80.40" fill="#1174b9" stroke="none" stroke-width="0"/>
<line x1="57.40" y1="266.10" x2="57.40" y2="292.30" stroke="#1a1a1a" stroke-width="1.25"/>
<line x1="80.30" y1="269.60" x2="80.30" y2="294.70" stroke="#1a1a1a" stroke-width="1.25"/>
<polyline points="57.4,261.7 57.4,258.3 80.3,258.3 80.3,261.7" fill="none" stroke="#333" stroke-width="0.9"/>
<text x="68.85" y="256.70" font-size="6.6" text-anchor="middle" fill="#111" stroke="#111" stroke-width="0.18">ns</text>
<line x1="57.40" y1="362.40" x2="57.40" y2="364.60" stroke="#333" stroke-width="0.7"/>
<text x="57.40" y="371.10" font-size="6.6" text-anchor="middle" fill="#111" stroke="#111" stroke-width="0.18">Exp.</text>
<line x1="80.30" y1="362.40" x2="80.30" y2="364.60" stroke="#333" stroke-width="0.7"/>
<text x="80.30" y="371.10" font-size="6.6" text-anchor="middle" fill="#111" stroke="#111" stroke-width="0.18">Obs.</text>
<text x="107.00" y="258.20" font-size="10" text-anchor="start" fill="#111" stroke="#111" stroke-width="0.18">e.</text>
<line x1="133.30" y1="262.00" x2="133.30" y2="362.40" stroke="#8c8c8c" stroke-width="1.1"/>
<line x1="132.80" y1="362.30" x2="181.50" y2="362.30" stroke="#333" stroke-width="1.0"/>
<line x1="131.30" y1="362.40" x2="133.30" y2="362.40" stroke="#333" stroke-width="0.7"/>
<text x="129.00" y="364.81" font-size="6.9" text-anchor="end" fill="#111" stroke="#111" stroke-width="0.18">0</text>
<line x1="131.30" y1="337.70" x2="133.30" y2="337.70" stroke="#333" stroke-width="0.7"/>
<text x="129.00" y="340.12" font-size="6.9" text-anchor="end" fill="#111" stroke="#111" stroke-width="0.18">20</text>
<line x1="131.30" y1="313.10" x2="133.30" y2="313.10" stroke="#333" stroke-width="0.7"/>
<text x="129.00" y="315.52" font-size="6.9" text-anchor="end" fill="#111" stroke="#111" stroke-width="0.18">40</text>
<line x1="131.30" y1="288.60" x2="133.30" y2="288.60" stroke="#333" stroke-width="0.7"/>
<text x="129.00" y="291.02" font-size="6.9" text-anchor="end" fill="#111" stroke="#111" stroke-width="0.18">60</text>
<line x1="131.30" y1="263.90" x2="133.30" y2="263.90" stroke="#333" stroke-width="0.7"/>
<text x="129.00" y="266.31" font-size="6.9" text-anchor="end" fill="#111" stroke="#111" stroke-width="0.18">80</text>
<text x="118.60" y="311.50" font-size="6.6" text-anchor="middle" fill="#111" stroke="#111" stroke-width="0.12" transform="rotate(-90 118.60 311.50)">Mutations on interface</text>
<rect x="134.40" y="305.90" width="23.50" height="56.40" fill="#8ecdeb" stroke="none" stroke-width="0"/>
<rect x="157.90" y="278.80" width="23.00" height="83.50" fill="#1174b9" stroke="none" stroke-width="0"/>
<line x1="146.30" y1="293.20" x2="146.30" y2="318.20" stroke="#1a1a1a" stroke-width="1.25"/>
<line x1="169.60" y1="266.40" x2="169.60" y2="291.50" stroke="#1a1a1a" stroke-width="1.25"/>
<polyline points="146.0,261.7 146.0,258.5 169.6,258.5 169.6,261.7" fill="none" stroke="#333" stroke-width="0.9"/>
<text x="157.90" y="259.00" font-size="8.0" text-anchor="middle" fill="#333" stroke="#333" stroke-width="0.15">****</text>
<line x1="146.00" y1="362.40" x2="146.00" y2="364.60" stroke="#333" stroke-width="0.7"/>
<text x="146.00" y="371.10" font-size="6.6" text-anchor="middle" fill="#111" stroke="#111" stroke-width="0.18">Exp.</text>
<line x1="169.60" y1="362.40" x2="169.60" y2="364.60" stroke="#333" stroke-width="0.7"/>
<text x="169.60" y="371.10" font-size="6.6" text-anchor="middle" fill="#111" stroke="#111" stroke-width="0.18">Obs.</text>
<text x="247.30" y="258.20" font-size="10" text-anchor="start" fill="#111" stroke="#111" stroke-width="0.18">g.</text>
<line x1="273.30" y1="261.50" x2="273.30" y2="362.40" stroke="#8c8c8c" stroke-width="1.1"/>
<line x1="272.80" y1="362.30" x2="322.00" y2="362.30" stroke="#333" stroke-width="1.0"/>
<line x1="271.30" y1="362.40" x2="273.30" y2="362.40" stroke="#333" stroke-width="0.7"/>
<text x="0" y="0" font-size="5.9" text-anchor="end" fill="#111" stroke="#111" stroke-width="0.1" transform="translate(269.00 364.46) scale(0.92 1)">0</text>
<line x1="271.30" y1="346.70" x2="273.30" y2="346.70" stroke="#333" stroke-width="0.7"/>
<text x="0" y="0" font-size="5.9" text-anchor="end" fill="#111" stroke="#111" stroke-width="0.1" transform="translate(269.00 348.76) scale(0.92 1)">10</text>
<line x1="271.30" y1="331.00" x2="273.30" y2="331.00" stroke="#333" stroke-width="0.7"/>
<text x="0" y="0" font-size="5.9" text-anchor="end" fill="#111" stroke="#111" stroke-width="0.1" transform="translate(269.00 333.06) scale(0.92 1)">20</text>
<line x1="271.30" y1="315.40" x2="273.30" y2="315.40" stroke="#333" stroke-width="0.7"/>
<text x="0" y="0" font-size="5.9" text-anchor="end" fill="#111" stroke="#111" stroke-width="0.1" transform="translate(269.00 317.46) scale(0.92 1)">30</text>
<line x1="271.30" y1="299.70" x2="273.30" y2="299.70" stroke="#333" stroke-width="0.7"/>
<text x="0" y="0" font-size="5.9" text-anchor="end" fill="#111" stroke="#111" stroke-width="0.1" transform="translate(269.00 301.76) scale(0.92 1)">40</text>
<line x1="271.30" y1="284.00" x2="273.30" y2="284.00" stroke="#333" stroke-width="0.7"/>
<text x="0" y="0" font-size="5.9" text-anchor="end" fill="#111" stroke="#111" stroke-width="0.1" transform="translate(269.00 286.06) scale(0.92 1)">50</text>
<line x1="271.30" y1="268.30" x2="273.30" y2="268.30" stroke="#333" stroke-width="0.7"/>
<text x="0" y="0" font-size="5.9" text-anchor="end" fill="#111" stroke="#111" stroke-width="0.1" transform="translate(269.00 270.37) scale(0.92 1)">60</text>
<text x="259.00" y="313.50" font-size="6.15" text-anchor="middle" fill="#111" stroke="#111" stroke-width="0.12" transform="rotate(-90 259.00 313.50)">Calcium binding mutations</text>
<rect x="275.50" y="286.90" width="23.50" height="75.40" fill="#98d1cf" stroke="none" stroke-width="0"/>
<rect x="299.00" y="295.10" width="22.50" height="67.20" fill="#1d9787" stroke="none" stroke-width="0"/>
<line x1="287.40" y1="266.60" x2="287.40" y2="306.10" stroke="#1a1a1a" stroke-width="1.25"/>
<line x1="310.40" y1="275.90" x2="310.40" y2="313.70" stroke="#1a1a1a" stroke-width="1.25"/>
<polyline points="287.4,261.7 287.4,257.7 310.4,257.7 310.4,261.7" fill="none" stroke="#666" stroke-width="0.9"/>
<text x="298.90" y="256.10" font-size="6.6" text-anchor="middle" fill="#111" stroke="#111" stroke-width="0.18">ns</text>
<line x1="287.40" y1="362.40" x2="287.40" y2="364.60" stroke="#333" stroke-width="0.7"/>
<text x="287.40" y="371.10" font-size="6.2" text-anchor="middle" fill="#111" stroke="#111" stroke-width="0.1">Exp.</text>
<line x1="310.40" y1="362.40" x2="310.40" y2="364.60" stroke="#333" stroke-width="0.7"/>
<text x="310.40" y="371.10" font-size="6.2" text-anchor="middle" fill="#111" stroke="#111" stroke-width="0.1">Obs.</text>
<text x="343.00" y="258.20" font-size="10" text-anchor="start" fill="#111" stroke="#111" stroke-width="0.18">h.</text>
<line x1="368.10" y1="262.20" x2="368.10" y2="362.40" stroke="#444" stroke-width="1.1"/>
<line x1="367.60" y1="362.30" x2="418.90" y2="362.30" stroke="#333" stroke-width="1.0"/>
<line x1="366.10" y1="362.40" x2="368.10" y2="362.40" stroke="#333" stroke-width="0.7"/>
<text x="0" y="0" font-size="6.0" text-anchor="end" fill="#111" stroke="#111" stroke-width="0.1" transform="translate(363.80 364.50) scale(0.86 1)">0</text>
<line x1="366.10" y1="346.20" x2="368.10" y2="346.20" stroke="#333" stroke-width="0.7"/>
<text x="0" y="0" font-size="6.0" text-anchor="end" fill="#111" stroke="#111" stroke-width="0.1" transform="translate(363.80 348.30) scale(0.86 1)">5</text>
<line x1="366.10" y1="329.90" x2="368.10" y2="329.90" stroke="#333" stroke-width="0.7"/>
<text x="0" y="0" font-size="6.0" text-anchor="end" fill="#111" stroke="#111" stroke-width="0.1" transform="translate(363.80 332.00) scale(0.86 1)">10</text>
<line x1="366.10" y1="313.60" x2="368.10" y2="313.60" stroke="#333" stroke-width="0.7"/>
<text x="0" y="0" font-size="6.0" text-anchor="end" fill="#111" stroke="#111" stroke-width="0.1" transform="translate(363.80 315.70) scale(0.86 1)">15</text>
<line x1="366.10" y1="297.30" x2="368.10" y2="297.30" stroke="#333" stroke-width="0.7"/>
<text x="0" y="0" font-size="6.0" text-anchor="end" fill="#111" stroke="#111" stroke-width="0.1" transform="translate(363.80 299.40) scale(0.86 1)">20</text>
<line x1="366.10" y1="281.00" x2="368.10" y2="281.00" stroke="#333" stroke-width="0.7"/>
<text x="0" y="0" font-size="6.0" text-anchor="end" fill="#111" stroke="#111" stroke-width="0.1" transform="translate(363.80 283.10) scale(0.86 1)">25</text>
<line x1="366.10" y1="264.70" x2="368.10" y2="264.70" stroke="#333" stroke-width="0.7"/>
<text x="0" y="0" font-size="6.0" text-anchor="end" fill="#111" stroke="#111" stroke-width="0.1" transform="translate(363.80 266.80) scale(0.86 1)">30</text>
<text x="353.90" y="312.00" font-size="6.4" text-anchor="middle" fill="#111" stroke="#111" stroke-width="0.12" transform="rotate(-90 353.90 312.00)">Calcium binding mutations</text>
<rect x="370.60" y="337.10" width="23.30" height="25.20" fill="#98d1cf" stroke="none" stroke-width="0"/>
<rect x="393.90" y="287.00" width="23.20" height="75.30" fill="#1d9787" stroke="none" stroke-width="0"/>
<line x1="382.40" y1="319.50" x2="382.40" y2="352.50" stroke="#1a1a1a" stroke-width="1.25"/>
<line x1="405.30" y1="267.40" x2="405.30" y2="306.80" stroke="#1a1a1a" stroke-width="1.25"/>
<polyline points="381.9,261.7 381.9,257.7 405.3,257.7 405.3,261.7" fill="none" stroke="#777" stroke-width="0.9"/>
<text x="393.70" y="258.20" font-size="8.0" text-anchor="middle" fill="#333" stroke="#333" stroke-width="0.15">****</text>
<line x1="381.90" y1="362.40" x2="381.90" y2="364.60" stroke="#333" stroke-width="0.7"/>
<text x="381.90" y="371.10" font-size="6.2" text-anchor="middle" fill="#111" stroke="#111" stroke-width="0.1">Exp.</text>
<line x1="405.30" y1="362.40" x2="405.30" y2="364.60" stroke="#333" stroke-width="0.7"/>
<text x="405.30" y="371.10" font-size="6.2" text-anchor="middle" fill="#111" stroke="#111" stroke-width="0.1">Obs.</text>
<text x="400.90" y="11.40" font-size="9.6" text-anchor="start" fill="#111" stroke="#111" stroke-width="0.18">f.</text>
<line x1="445.70" y1="0.00" x2="445.70" y2="252.30" stroke="#7a7a7a" stroke-width="1.1"/>
<line x1="445.20" y1="252.30" x2="682.00" y2="252.30" stroke="#6a6a6a" stroke-width="1.1"/>
<line x1="456.60" y1="252.30" x2="456.60" y2="254.60" stroke="#333" stroke-width="0.8"/>
<text x="456.60" y="265.00" font-size="8.6" text-anchor="middle" fill="#111" stroke="#111" stroke-width="0.1">0</text>
<line x1="484.20" y1="252.30" x2="484.20" y2="254.60" stroke="#333" stroke-width="0.8"/>
<text x="484.20" y="265.00" font-size="8.6" text-anchor="middle" fill="#111" stroke="#111" stroke-width="0.1">1</text>
<line x1="511.80" y1="252.30" x2="511.80" y2="254.60" stroke="#333" stroke-width="0.8"/>
<text x="511.80" y="265.00" font-size="8.6" text-anchor="middle" fill="#111" stroke="#111" stroke-width="0.1">2</text>
<line x1="539.40" y1="252.30" x2="539.40" y2="254.60" stroke="#333" stroke-width="0.8"/>
<text x="539.40" y="265.00" font-size="8.6" text-anchor="middle" fill="#111" stroke="#111" stroke-width="0.1">3</text>
<line x1="567.00" y1="252.30" x2="567.00" y2="254.60" stroke="#333" stroke-width="0.8"/>
<text x="567.00" y="265.00" font-size="8.6" text-anchor="middle" fill="#111" stroke="#111" stroke-width="0.1">4</text>
<line x1="594.60" y1="252.30" x2="594.60" y2="254.60" stroke="#333" stroke-width="0.8"/>
<text x="594.60" y="265.00" font-size="8.6" text-anchor="middle" fill="#111" stroke="#111" stroke-width="0.1">5</text>
<line x1="622.20" y1="252.30" x2="622.20" y2="254.60" stroke="#333" stroke-width="0.8"/>
<text x="622.20" y="265.00" font-size="8.6" text-anchor="middle" fill="#111" stroke="#111" stroke-width="0.1">6</text>
<line x1="649.80" y1="252.30" x2="649.80" y2="254.60" stroke="#333" stroke-width="0.8"/>
<text x="649.80" y="265.00" font-size="8.6" text-anchor="middle" fill="#111" stroke="#111" stroke-width="0.1">7</text>
<line x1="677.40" y1="252.30" x2="677.40" y2="254.60" stroke="#333" stroke-width="0.8"/>
<text x="677.40" y="265.00" font-size="8.6" text-anchor="middle" fill="#111" stroke="#111" stroke-width="0.1">8</text>
<text x="564.80" y="276.10" font-size="9.3" text-anchor="middle" fill="#111" stroke="#111" stroke-width="0.1">Distance from interface residues (A)</text>
<line x1="442.90" y1="49.60" x2="445.70" y2="49.60" stroke="#333" stroke-width="0.8"/>
<text x="439.40" y="52.70" font-size="8.9" text-anchor="end" fill="#111" stroke="#111" stroke-width="0.1">10<tspan font-size="6.23" dy="-3.38">1</tspan></text>
<line x1="442.90" y1="133.30" x2="445.70" y2="133.30" stroke="#333" stroke-width="0.8"/>
<text x="439.40" y="136.40" font-size="8.9" text-anchor="end" fill="#111" stroke="#111" stroke-width="0.1">10<tspan font-size="6.23" dy="-3.38">0</tspan></text>
<line x1="442.90" y1="204.80" x2="445.70" y2="204.80" stroke="#333" stroke-width="0.8"/>
<text x="439.40" y="207.90" font-size="8.9" text-anchor="end" fill="#111" stroke="#111" stroke-width="0.1">−10<tspan font-size="6.23" dy="-3.38">0</tspan></text>
<line x1="442.90" y1="169.30" x2="445.70" y2="169.30" stroke="#333" stroke-width="0.8"/>
<text x="439.40" y="172.40" font-size="8.9" text-anchor="end" fill="#111" stroke="#111" stroke-width="0.1">0</text>
<text x="413.60" y="126.50" font-size="9.0" text-anchor="middle" fill="#111" stroke="#111" stroke-width="0.1" transform="rotate(-90 413.60 126.50)">FoldX ΔΔG (kcal/mol)</text>
<circle cx="456.60" cy="146.50" r="0.95" fill="#d2d2d2"/>
<circle cx="456.60" cy="148.30" r="0.95" fill="#d2d2d2"/>
<circle cx="456.60" cy="150.10" r="0.95" fill="#d2d2d2"/>
<circle cx="456.60" cy="151.90" r="0.95" fill="#d2d2d2"/>
<circle cx="456.60" cy="153.70" r="0.95" fill="#d2d2d2"/>
<circle cx="456.60" cy="155.50" r="0.95" fill="#d2d2d2"/>
<circle cx="456.60" cy="157.30" r="0.95" fill="#d2d2d2"/>
<circle cx="456.60" cy="159.10" r="0.95" fill="#d2d2d2"/>
<circle cx="456.60" cy="160.90" r="0.95" fill="#d2d2d2"/>
<circle cx="456.60" cy="162.70" r="0.95" fill="#d2d2d2"/>
<circle cx="456.60" cy="164.50" r="0.95" fill="#d2d2d2"/>
<circle cx="456.60" cy="166.30" r="0.95" fill="#d2d2d2"/>
<circle cx="456.60" cy="168.10" r="0.95" fill="#d2d2d2"/>
<circle cx="456.60" cy="169.90" r="0.95" fill="#d2d2d2"/>
<circle cx="456.60" cy="171.70" r="0.95" fill="#d2d2d2"/>
<circle cx="456.60" cy="173.50" r="0.95" fill="#d2d2d2"/>
<circle cx="456.60" cy="175.30" r="0.95" fill="#d2d2d2"/>
<circle cx="456.60" cy="177.10" r="0.95" fill="#d2d2d2"/>
<circle cx="456.60" cy="178.90" r="0.95" fill="#d2d2d2"/>
<circle cx="456.60" cy="180.70" r="0.95" fill="#d2d2d2"/>
<circle cx="456.60" cy="182.50" r="0.95" fill="#d2d2d2"/>
<circle cx="456.60" cy="184.30" r="0.95" fill="#d2d2d2"/>
<circle cx="456.60" cy="186.10" r="0.95" fill="#d2d2d2"/>
<circle cx="456.60" cy="187.90" r="0.95" fill="#d2d2d2"/>
<circle cx="456.60" cy="189.70" r="0.95" fill="#d2d2d2"/>
<circle cx="456.60" cy="191.50" r="0.95" fill="#d2d2d2"/>
<circle cx="456.60" cy="193.30" r="0.95" fill="#d2d2d2"/>
<circle cx="456.60" cy="195.10" r="0.95" fill="#d2d2d2"/>
<circle cx="523.90" cy="123.00" r="0.95" fill="#d2d2d2"/>
<circle cx="523.90" cy="124.80" r="0.95" fill="#d2d2d2"/>
<circle cx="523.90" cy="126.60" r="0.95" fill="#d2d2d2"/>
<circle cx="523.90" cy="128.40" r="0.95" fill="#d2d2d2"/>
<circle cx="523.90" cy="130.20" r="0.95" fill="#d2d2d2"/>
<circle cx="523.90" cy="132.00" r="0.95" fill="#d2d2d2"/>
<circle cx="523.90" cy="133.80" r="0.95" fill="#d2d2d2"/>
<circle cx="523.90" cy="135.60" r="0.95" fill="#d2d2d2"/>
<circle cx="523.90" cy="137.40" r="0.95" fill="#d2d2d2"/>
<circle cx="523.90" cy="139.20" r="0.95" fill="#d2d2d2"/>
<circle cx="523.90" cy="141.00" r="0.95" fill="#d2d2d2"/>
<circle cx="523.90" cy="142.80" r="0.95" fill="#d2d2d2"/>
<circle cx="523.90" cy="144.60" r="0.95" fill="#d2d2d2"/>
<circle cx="523.90" cy="146.40" r="0.95" fill="#d2d2d2"/>
<circle cx="523.90" cy="148.20" r="0.95" fill="#d2d2d2"/>
<circle cx="523.90" cy="150.00" r="0.95" fill="#d2d2d2"/>
<circle cx="523.90" cy="151.80" r="0.95" fill="#d2d2d2"/>
<circle cx="523.90" cy="153.60" r="0.95" fill="#d2d2d2"/>
<circle cx="523.90" cy="155.40" r="0.95" fill="#d2d2d2"/>
<circle cx="523.90" cy="157.20" r="0.95" fill="#d2d2d2"/>
<circle cx="523.90" cy="159.00" r="0.95" fill="#d2d2d2"/>
<circle cx="523.90" cy="160.80" r="0.95" fill="#d2d2d2"/>
<circle cx="523.90" cy="162.60" r="0.95" fill="#d2d2d2"/>
<circle cx="523.90" cy="164.40" r="0.95" fill="#d2d2d2"/>
<circle cx="523.90" cy="166.20" r="0.95" fill="#d2d2d2"/>
<circle cx="523.90" cy="168.00" r="0.95" fill="#d2d2d2"/>
<circle cx="523.90" cy="169.80" r="0.95" fill="#d2d2d2"/>
<circle cx="523.90" cy="171.60" r="0.95" fill="#d2d2d2"/>
<circle cx="523.90" cy="173.40" r="0.95" fill="#d2d2d2"/>
<circle cx="523.90" cy="175.20" r="0.95" fill="#d2d2d2"/>
<circle cx="523.90" cy="177.00" r="0.95" fill="#d2d2d2"/>
<circle cx="523.90" cy="178.80" r="0.95" fill="#d2d2d2"/>
<circle cx="523.90" cy="180.60" r="0.95" fill="#d2d2d2"/>
<circle cx="523.90" cy="182.40" r="0.95" fill="#d2d2d2"/>
<circle cx="523.90" cy="184.20" r="0.95" fill="#d2d2d2"/>
<circle cx="523.90" cy="186.00" r="0.95" fill="#d2d2d2"/>
<circle cx="523.90" cy="187.80" r="0.95" fill="#d2d2d2"/>
<circle cx="523.90" cy="189.60" r="0.95" fill="#d2d2d2"/>
<circle cx="523.90" cy="191.40" r="0.95" fill="#d2d2d2"/>
<circle cx="523.90" cy="193.20" r="0.95" fill="#d2d2d2"/>
<circle cx="523.90" cy="195.00" r="0.95" fill="#d2d2d2"/>
<circle cx="523.90" cy="196.80" r="0.95" fill="#d2d2d2"/>
<circle cx="523.90" cy="198.60" r="0.95" fill="#d2d2d2"/>
<circle cx="523.90" cy="200.40" r="0.95" fill="#d2d2d2"/>
<circle cx="523.90" cy="202.20" r="0.95" fill="#d2d2d2"/>
<circle cx="456.60" cy="16.10" r="1.30" fill="#c8c8c8"/>
<circle cx="456.60" cy="65.80" r="1.30" fill="#c8c8c8"/>
<circle cx="456.60" cy="82.70" r="1.30" fill="#c8c8c8"/>
<circle cx="456.60" cy="201.10" r="1.30" fill="#c8c8c8"/>
<circle cx="456.60" cy="100.50" r="1.30" fill="#c8c8c8"/>
<circle cx="456.60" cy="106.50" r="1.30" fill="#c8c8c8"/>
<circle cx="456.60" cy="121.00" r="1.30" fill="#c8c8c8"/>
<circle cx="456.60" cy="126.20" r="1.30" fill="#c8c8c8"/>
<circle cx="523.90" cy="25.50" r="1.30" fill="#c8c8c8"/>
<circle cx="523.90" cy="84.60" r="1.30" fill="#c8c8c8"/>
<circle cx="523.90" cy="93.70" r="1.30" fill="#c8c8c8"/>
<circle cx="523.90" cy="95.90" r="1.30" fill="#c8c8c8"/>
<circle cx="523.90" cy="112.00" r="1.30" fill="#c8c8c8"/>
<circle cx="523.90" cy="204.50" r="1.30" fill="#c8c8c8"/>
<circle cx="544.60" cy="64.90" r="1.30" fill="#c8c8c8"/>
<circle cx="545.60" cy="65.20" r="1.30" fill="#c8c8c8"/>
<circle cx="545.60" cy="76.00" r="1.30" fill="#c8c8c8"/>
<circle cx="551.80" cy="43.00" r="1.30" fill="#c8c8c8"/>
<circle cx="551.80" cy="64.60" r="1.30" fill="#c8c8c8"/>
<circle cx="551.80" cy="73.00" r="1.30" fill="#c8c8c8"/>
<circle cx="552.20" cy="133.70" r="1.30" fill="#c8c8c8"/>
<circle cx="552.50" cy="169.70" r="1.30" fill="#c8c8c8"/>
<circle cx="552.50" cy="183.60" r="1.30" fill="#c8c8c8"/>
<circle cx="552.50" cy="188.20" r="1.30" fill="#c8c8c8"/>
<circle cx="552.50" cy="190.80" r="1.30" fill="#c8c8c8"/>
<circle cx="552.50" cy="200.90" r="1.30" fill="#c8c8c8"/>
<circle cx="552.30" cy="201.00" r="1.30" fill="#c8c8c8"/>
<circle cx="555.50" cy="91.20" r="1.30" fill="#c8c8c8"/>
<circle cx="555.70" cy="174.10" r="1.30" fill="#c8c8c8"/>
<circle cx="555.70" cy="177.80" r="1.30" fill="#c8c8c8"/>
<circle cx="555.70" cy="192.60" r="1.30" fill="#c8c8c8"/>
<circle cx="555.70" cy="202.90" r="1.30" fill="#c8c8c8"/>
<circle cx="555.50" cy="202.70" r="1.30" fill="#c8c8c8"/>
<circle cx="555.50" cy="241.10" r="1.30" fill="#c8c8c8"/>
<circle cx="558.50" cy="47.00" r="1.30" fill="#c8c8c8"/>
<circle cx="558.20" cy="72.00" r="1.30" fill="#c8c8c8"/>
<circle cx="558.20" cy="93.40" r="1.30" fill="#c8c8c8"/>
<circle cx="558.20" cy="99.30" r="1.30" fill="#c8c8c8"/>
<circle cx="559.20" cy="100.20" r="1.30" fill="#c8c8c8"/>
<circle cx="559.20" cy="113.80" r="1.30" fill="#c8c8c8"/>
<circle cx="559.20" cy="132.50" r="1.30" fill="#c8c8c8"/>
<circle cx="559.20" cy="140.00" r="1.30" fill="#c8c8c8"/>
<circle cx="559.20" cy="143.80" r="1.30" fill="#c8c8c8"/>
<circle cx="559.20" cy="157.40" r="1.30" fill="#c8c8c8"/>
<circle cx="563.20" cy="123.80" r="1.30" fill="#c8c8c8"/>
<circle cx="563.20" cy="162.00" r="1.30" fill="#c8c8c8"/>
<circle cx="563.20" cy="197.90" r="1.30" fill="#c8c8c8"/>
<circle cx="563.20" cy="215.40" r="1.30" fill="#c8c8c8"/>
<circle cx="578.00" cy="48.00" r="1.30" fill="#c8c8c8"/>
<circle cx="577.90" cy="72.20" r="1.30" fill="#c8c8c8"/>
<circle cx="577.90" cy="78.90" r="1.30" fill="#c8c8c8"/>
<circle cx="577.90" cy="86.30" r="1.30" fill="#c8c8c8"/>
<circle cx="578.00" cy="111.00" r="1.30" fill="#c8c8c8"/>
<circle cx="577.80" cy="183.20" r="1.30" fill="#c8c8c8"/>
<circle cx="583.50" cy="91.80" r="1.30" fill="#c8c8c8"/>
<circle cx="583.60" cy="143.50" r="1.30" fill="#c8c8c8"/>
<circle cx="592.70" cy="69.30" r="1.30" fill="#c8c8c8"/>
<circle cx="592.30" cy="120.80" r="1.30" fill="#c8c8c8"/>
<circle cx="593.70" cy="122.00" r="1.30" fill="#c8c8c8"/>
<circle cx="592.30" cy="129.40" r="1.30" fill="#c8c8c8"/>
<circle cx="592.30" cy="153.40" r="1.30" fill="#c8c8c8"/>
<circle cx="589.70" cy="156.40" r="1.30" fill="#c8c8c8"/>
<circle cx="593.70" cy="157.80" r="1.30" fill="#c8c8c8"/>
<circle cx="589.00" cy="157.00" r="1.30" fill="#c8c8c8"/>
<circle cx="593.00" cy="157.00" r="1.30" fill="#c8c8c8"/>
<circle cx="592.00" cy="159.30" r="1.30" fill="#c8c8c8"/>
<circle cx="588.00" cy="164.50" r="1.30" fill="#c8c8c8"/>
<circle cx="590.00" cy="163.50" r="1.30" fill="#c8c8c8"/>
<circle cx="588.00" cy="167.00" r="1.30" fill="#c8c8c8"/>
<circle cx="593.00" cy="163.50" r="1.30" fill="#c8c8c8"/>
<circle cx="593.00" cy="167.00" r="1.30" fill="#c8c8c8"/>
<circle cx="593.00" cy="172.70" r="1.30" fill="#c8c8c8"/>
<circle cx="588.00" cy="172.50" r="1.30" fill="#c8c8c8"/>
<circle cx="590.00" cy="174.00" r="1.30" fill="#c8c8c8"/>
<circle cx="593.00" cy="175.00" r="1.30" fill="#c8c8c8"/>
<circle cx="588.00" cy="178.00" r="1.30" fill="#c8c8c8"/>
<circle cx="593.00" cy="180.00" r="1.30" fill="#c8c8c8"/>
<circle cx="588.00" cy="182.50" r="1.30" fill="#c8c8c8"/>
<circle cx="590.00" cy="183.00" r="1.30" fill="#c8c8c8"/>
<circle cx="593.00" cy="184.00" r="1.30" fill="#c8c8c8"/>
<circle cx="593.00" cy="186.00" r="1.30" fill="#c8c8c8"/>
<circle cx="593.00" cy="192.00" r="1.30" fill="#c8c8c8"/>
<circle cx="610.40" cy="49.60" r="1.30" fill="#c8c8c8"/>
<circle cx="612.40" cy="157.30" r="1.30" fill="#c8c8c8"/>
<circle cx="612.60" cy="171.40" r="1.30" fill="#c8c8c8"/>
<circle cx="612.60" cy="180.60" r="1.30" fill="#c8c8c8"/>
<circle cx="612.60" cy="197.60" r="1.30" fill="#c8c8c8"/>
<circle cx="612.60" cy="202.90" r="1.30" fill="#c8c8c8"/>
<circle cx="623.20" cy="74.60" r="1.30" fill="#c8c8c8"/>
<circle cx="623.80" cy="122.60" r="1.30" fill="#c8c8c8"/>
<circle cx="623.80" cy="127.80" r="1.30" fill="#c8c8c8"/>
<circle cx="623.80" cy="131.10" r="1.30" fill="#c8c8c8"/>
<circle cx="623.80" cy="149.10" r="1.30" fill="#c8c8c8"/>
<circle cx="622.50" cy="150.00" r="1.30" fill="#c8c8c8"/>
<circle cx="623.80" cy="157.40" r="1.30" fill="#c8c8c8"/>
<circle cx="623.30" cy="160.30" r="1.30" fill="#c8c8c8"/>
<circle cx="623.30" cy="163.30" r="1.30" fill="#c8c8c8"/>
<circle cx="623.30" cy="167.10" r="1.30" fill="#c8c8c8"/>
<circle cx="623.30" cy="171.00" r="1.30" fill="#c8c8c8"/>
<circle cx="623.30" cy="172.50" r="1.30" fill="#c8c8c8"/>
<circle cx="623.30" cy="174.00" r="1.30" fill="#c8c8c8"/>
<circle cx="623.30" cy="177.40" r="1.30" fill="#c8c8c8"/>
<circle cx="623.30" cy="183.90" r="1.30" fill="#c8c8c8"/>
<circle cx="623.30" cy="191.80" r="1.30" fill="#c8c8c8"/>
<circle cx="623.30" cy="224.60" r="1.30" fill="#c8c8c8"/>
<circle cx="648.60" cy="126.70" r="1.30" fill="#c8c8c8"/>
<circle cx="648.60" cy="128.10" r="1.30" fill="#c8c8c8"/>
<circle cx="648.50" cy="162.40" r="1.30" fill="#c8c8c8"/>
<circle cx="648.50" cy="170.80" r="1.30" fill="#c8c8c8"/>
<circle cx="648.50" cy="179.60" r="1.30" fill="#c8c8c8"/>
<circle cx="648.50" cy="181.10" r="1.30" fill="#c8c8c8"/>
<circle cx="648.50" cy="184.80" r="1.30" fill="#c8c8c8"/>
<circle cx="648.50" cy="188.00" r="1.30" fill="#c8c8c8"/>
<circle cx="648.50" cy="209.70" r="1.30" fill="#c8c8c8"/>
<circle cx="653.30" cy="155.60" r="1.30" fill="#c8c8c8"/>
<circle cx="653.70" cy="170.80" r="1.30" fill="#c8c8c8"/>
<circle cx="653.70" cy="197.20" r="1.30" fill="#c8c8c8"/>
<circle cx="653.70" cy="201.50" r="1.30" fill="#c8c8c8"/>
<circle cx="662.50" cy="129.30" r="1.30" fill="#c8c8c8"/>
<circle cx="662.50" cy="146.90" r="1.30" fill="#c8c8c8"/>
<circle cx="662.50" cy="148.70" r="1.30" fill="#c8c8c8"/>
<circle cx="662.50" cy="154.20" r="1.30" fill="#c8c8c8"/>
<circle cx="662.50" cy="156.50" r="1.30" fill="#c8c8c8"/>
<circle cx="673.00" cy="151.60" r="1.30" fill="#c8c8c8"/>
<circle cx="673.00" cy="158.20" r="1.30" fill="#c8c8c8"/>
<circle cx="673.00" cy="162.40" r="1.30" fill="#c8c8c8"/>
<circle cx="673.00" cy="166.10" r="1.30" fill="#c8c8c8"/>
<circle cx="456.60" cy="12.20" r="2.30" fill="#1f6db3"/>
<circle cx="456.60" cy="25.00" r="1.70" fill="#1f6db3"/>
<circle cx="456.60" cy="34.70" r="1.60" fill="#1f6db3"/>
<circle cx="456.60" cy="69.00" r="2.00" fill="#1f6db3"/>
<circle cx="456.60" cy="71.90" r="2.80" fill="#1f6db3"/>
<circle cx="456.60" cy="73.90" r="2.00" fill="#1f6db3"/>
<circle cx="456.60" cy="96.60" r="2.50" fill="#1f6db3"/>
<circle cx="456.60" cy="114.00" r="1.40" fill="#1f6db3"/>
<circle cx="456.60" cy="116.30" r="1.40" fill="#1f6db3"/>
<circle cx="456.60" cy="123.80" r="3.00" fill="#1f6db3"/>
<circle cx="456.60" cy="128.80" r="1.60" fill="#1f6db3"/>
<circle cx="456.60" cy="135.70" r="1.60" fill="#1f6db3"/>
<circle cx="456.60" cy="145.40" r="2.00" fill="#1f6db3"/>
<circle cx="456.60" cy="157.20" r="1.60" fill="#1f6db3"/>
<circle cx="456.60" cy="163.00" r="2.80" fill="#1f6db3"/>
<circle cx="456.60" cy="167.90" r="1.60" fill="#1f6db3"/>
<circle cx="456.60" cy="173.00" r="2.60" fill="#1f6db3"/>
<circle cx="456.60" cy="182.40" r="2.60" fill="#1f6db3"/>
<circle cx="456.60" cy="184.20" r="2.10" fill="#1f6db3"/>
<circle cx="456.60" cy="187.20" r="2.00" fill="#1f6db3"/>
<circle cx="456.60" cy="88.40" r="2.50" fill="#1e9485"/>
<circle cx="456.60" cy="96.60" r="1.80" fill="#1e9485"/>
<circle cx="456.60" cy="104.00" r="1.30" fill="#1e9485"/>
<circle cx="456.60" cy="109.50" r="1.30" fill="#1e9485"/>
<circle cx="456.60" cy="111.80" r="1.30" fill="#1e9485"/>
<circle cx="456.60" cy="118.60" r="1.30" fill="#1e9485"/>
<circle cx="456.60" cy="132.70" r="1.40" fill="#1e9485"/>
<circle cx="456.60" cy="135.70" r="1.10" fill="#1e9485"/>
<circle cx="456.60" cy="140.90" r="2.30" fill="#1e9485"/>
<circle cx="456.60" cy="145.40" r="1.40" fill="#1e9485"/>
<circle cx="456.60" cy="158.80" r="1.20" fill="#1e9485"/>
<circle cx="456.60" cy="177.90" r="1.20" fill="#1e9485"/>
<circle cx="523.90" cy="16.40" r="3.30" fill="#c0361c"/>
<circle cx="523.90" cy="31.50" r="3.10" fill="#c0361c"/>
<circle cx="523.90" cy="38.30" r="1.50" fill="#c0361c"/>
<circle cx="523.90" cy="40.30" r="3.00" fill="#c0361c"/>
<circle cx="523.90" cy="43.60" r="2.30" fill="#c0361c"/>
<circle cx="523.90" cy="45.70" r="1.90" fill="#c0361c"/>
<circle cx="523.90" cy="48.00" r="1.90" fill="#c0361c"/>
<circle cx="523.90" cy="50.20" r="1.80" fill="#c0361c"/>
<circle cx="523.90" cy="53.90" r="2.10" fill="#c0361c"/>
<circle cx="523.90" cy="59.80" r="2.10" fill="#c0361c"/>
<circle cx="523.90" cy="62.00" r="2.00" fill="#c0361c"/>
<circle cx="523.90" cy="64.20" r="2.10" fill="#c0361c"/>
<circle cx="523.90" cy="72.30" r="5.30" fill="#c0361c"/>
<circle cx="523.90" cy="74.50" r="2.80" fill="#c0361c"/>
<circle cx="523.90" cy="79.70" r="2.40" fill="#c0361c"/>
<circle cx="523.90" cy="81.20" r="2.40" fill="#c0361c"/>
<circle cx="523.90" cy="88.50" r="1.90" fill="#c0361c"/>
<circle cx="523.90" cy="137.80" r="1.40" fill="#1e9485"/>
<circle cx="523.90" cy="145.20" r="1.50" fill="#1e9485"/>
<circle cx="523.90" cy="146.00" r="1.40" fill="#1e9485"/>
<circle cx="523.90" cy="152.50" r="1.50" fill="#1e9485"/>
<circle cx="523.90" cy="176.00" r="2.60" fill="#1e9485"/>
<circle cx="523.90" cy="196.10" r="3.90" fill="#1e9485"/>
<circle cx="523.90" cy="155.90" r="2.60" fill="#ec7a30"/>
<circle cx="523.90" cy="163.20" r="1.40" fill="#ec7a30"/>
<circle cx="545.40" cy="16.20" r="1.80" fill="#c0361c"/>
<circle cx="545.40" cy="24.60" r="2.40" fill="#c0361c"/>
<circle cx="551.80" cy="31.80" r="2.90" fill="#c0361c"/>
<circle cx="551.80" cy="35.60" r="1.40" fill="#c0361c"/>
<circle cx="558.50" cy="35.60" r="1.40" fill="#c0361c"/>
<circle cx="558.20" cy="51.60" r="2.00" fill="#c0361c"/>
<circle cx="558.20" cy="65.40" r="1.90" fill="#c0361c"/>
<circle cx="561.80" cy="76.70" r="1.40" fill="#c0361c"/>
<circle cx="561.80" cy="84.60" r="3.20" fill="#c0361c"/>
<circle cx="578.00" cy="21.90" r="1.80" fill="#c0361c"/>
<circle cx="577.90" cy="52.10" r="1.90" fill="#c0361c"/>
<circle cx="577.90" cy="91.80" r="1.90" fill="#c0361c"/>
<circle cx="589.20" cy="80.20" r="1.40" fill="#c0361c"/>
<circle cx="589.20" cy="84.20" r="2.50" fill="#c0361c"/>
<circle cx="589.20" cy="86.60" r="2.50" fill="#c0361c"/>
<circle cx="592.70" cy="74.90" r="1.50" fill="#c0361c"/>
<circle cx="610.40" cy="54.00" r="1.50" fill="#c0361c"/>
<circle cx="610.40" cy="63.00" r="3.60" fill="#c0361c"/>
<circle cx="610.40" cy="67.30" r="2.30" fill="#c0361c"/>
<circle cx="610.40" cy="69.30" r="2.00" fill="#c0361c"/>
<circle cx="623.20" cy="87.80" r="1.40" fill="#c0361c"/>
<circle cx="623.20" cy="91.90" r="1.40" fill="#c0361c"/>
<circle cx="636.60" cy="61.40" r="2.20" fill="#c0361c"/>
<circle cx="636.60" cy="74.60" r="2.40" fill="#c0361c"/>
<circle cx="636.60" cy="76.70" r="2.00" fill="#c0361c"/>
<circle cx="636.60" cy="79.10" r="1.70" fill="#c0361c"/>
<circle cx="636.60" cy="82.60" r="1.20" fill="#c0361c"/>
<circle cx="648.60" cy="84.20" r="1.20" fill="#c0361c"/>
<circle cx="545.60" cy="110.10" r="1.40" fill="#ec7a30"/>
<circle cx="578.00" cy="147.00" r="1.30" fill="#ec7a30"/>
<circle cx="577.80" cy="164.10" r="1.40" fill="#ec7a30"/>
<circle cx="593.40" cy="179.80" r="2.20" fill="#ec7a30"/>
<circle cx="623.50" cy="98.50" r="2.00" fill="#ec7a30"/>
<circle cx="648.50" cy="159.60" r="1.50" fill="#ec7a30"/>
<circle cx="648.50" cy="176.80" r="1.50" fill="#ec7a30"/>
<circle cx="662.50" cy="126.70" r="1.50" fill="#ec7a30"/>
<circle cx="673.00" cy="174.70" r="1.50" fill="#ec7a30"/>
<circle cx="583.50" cy="85.80" r="1.40" fill="#1e9485"/>
<circle cx="583.60" cy="122.00" r="2.30" fill="#1e9485"/>
<circle cx="583.60" cy="130.90" r="1.30" fill="#1e9485"/>
<circle cx="583.60" cy="136.50" r="1.30" fill="#1e9485"/>
<circle cx="583.60" cy="147.70" r="2.00" fill="#1e9485"/>
<path d="M450.4,94.4 L668.2,94.4 L668.2,5.9 L450.4,5.9 Z" fill="none" stroke="#cd3c4b" stroke-width="1.5" stroke-dasharray="9 8.97" stroke-dashoffset="3.47"/>
<path d="M448.5,211.1 L466.4,211.1 L466.4,8.8 L448.5,8.8 Z" fill="none" stroke="#2c7dc3" stroke-width="1.4" stroke-dasharray="9.4 9.1" stroke-dashoffset="6.6"/>
</svg>
</body></html>
